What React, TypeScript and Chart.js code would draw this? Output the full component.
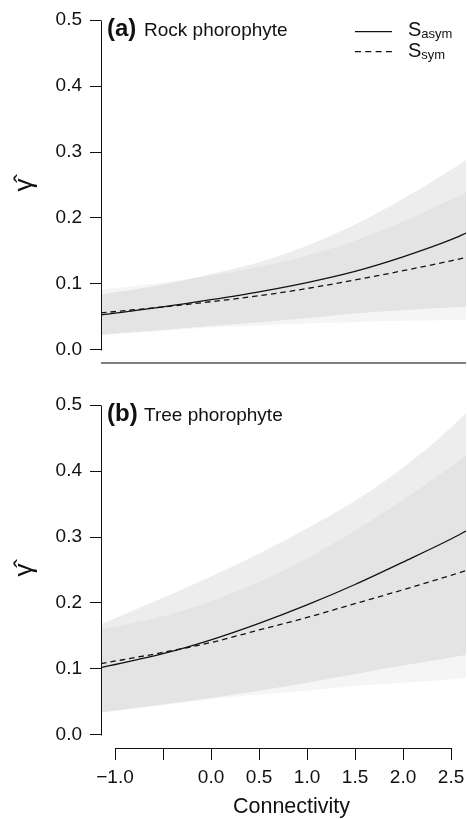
import React, { useEffect, useRef } from 'react';
import { Chart, registerables } from 'chart.js';

Chart.register(...registerables);

// ---------- data ----------
const xGrid = [-1.146, -0.5, 0.0, 0.5, 1.0, 1.5, 2.0, 2.5, 2.656];

// (a) Rock phorophyte
const rockAsym = [0.053, 0.065, 0.076, 0.088, 0.102, 0.119, 0.141, 0.167, 0.177];
const rockSym = [0.056, 0.065, 0.073, 0.082, 0.093, 0.106, 0.120, 0.135, 0.140];
const rockAsymUpper = [0.084, 0.099, 0.115, 0.133, 0.158, 0.190, 0.229, 0.273, 0.288];
const rockAsymLower = [0.023, 0.030, 0.036, 0.042, 0.048, 0.055, 0.060, 0.064, 0.065];
const rockSymUpper = [0.091, 0.102, 0.113, 0.126, 0.143, 0.166, 0.195, 0.228, 0.239];
const rockSymLower = [0.022, 0.029, 0.034, 0.037, 0.040, 0.042, 0.044, 0.045, 0.045];

// (b) Tree phorophyte
const treeAsym = [0.102, 0.123, 0.144, 0.169, 0.197, 0.228, 0.262, 0.297, 0.309];
const treeSym = [0.108, 0.125, 0.140, 0.159, 0.178, 0.199, 0.220, 0.242, 0.249];
const treeAsymUpper = [0.168, 0.208, 0.240, 0.275, 0.313, 0.355, 0.405, 0.466, 0.488];
const treeAsymLower = [0.034, 0.046, 0.056, 0.067, 0.079, 0.092, 0.105, 0.117, 0.121];
const treeSymUpper = [0.160, 0.180, 0.203, 0.232, 0.268, 0.310, 0.357, 0.407, 0.424];
const treeSymLower = [0.034, 0.045, 0.054, 0.061, 0.067, 0.074, 0.079, 0.084, 0.086];

const yTicks = [0, 0.1, 0.2, 0.3, 0.4, 0.5];
const yTickLabels = ['0.0', '0.1', '0.2', '0.3', '0.4', '0.5'];
const xTicks = [-1, -0.5, 0, 0.5, 1, 1.5, 2, 2.5];
const xTickLabels = ['\u22121.0', '', '0.0', '0.5', '1.0', '1.5', '2.0', '2.5'];

const panelLetters = ['(a)', '(b)'];
const panelNames = ['Rock phorophyte', 'Tree phorophyte'];
const legendBase = 'S';
const legendSubs = ['asym', 'sym'];
const xTitle = 'Connectivity';
const yTitle = '\u03B3\u0302';

const FONT = '"Liberation Sans", Arial, Helvetica, sans-serif';

const pts = (ys: number[]) => xGrid.map((x, i) => ({ x, y: ys[i] }));

function makeDecor(panel: number) {
  return {
    id: 'decor' + panel,
    afterDraw(chart: any) {
      const ctx = chart.ctx as CanvasRenderingContext2D;
      const ca = chart.chartArea;
      const ys = chart.scales.y;
      const xs = chart.scales.x;
      const top = ys.getPixelForValue(yTicks[yTicks.length - 1]);
      const bot = ys.getPixelForValue(yTicks[0]);
      ctx.save();
      // y axis line (R style: from first to last tick)
      ctx.strokeStyle = '#111';
      ctx.lineWidth = 1;
      const ax = Math.round(ca.left) + 0.5;
      ctx.beginPath();
      ctx.moveTo(ax, Math.round(top) + 0.5);
      ctx.lineTo(ax, Math.round(bot) + 0.5);
      ctx.stroke();
      if (panel === 0) {
        // bottom frame line of top panel
        ctx.strokeStyle = '#555';
        ctx.lineWidth = 1.5;
        ctx.beginPath();
        ctx.moveTo(ca.left, ca.bottom);
        ctx.lineTo(ca.right, ca.bottom);
        ctx.stroke();
      } else {
        ctx.strokeStyle = '#111';
        ctx.lineWidth = 1;
        const by = Math.round(ca.bottom) + 0.5;
        ctx.beginPath();
        ctx.moveTo(Math.round(xs.getPixelForValue(xTicks[0])) + 0.5, by);
        ctx.lineTo(Math.round(xs.getPixelForValue(xTicks[xTicks.length - 1])) + 0.5, by);
        ctx.stroke();
        // x title
        ctx.fillStyle = '#111';
        ctx.font = '21.5px ' + FONT;
        ctx.textAlign = 'center';
        ctx.textBaseline = 'alphabetic';
        ctx.fillText(xTitle, (ca.left + ca.right) / 2 + 8, ca.bottom + 65);
      }
      // panel label
      ctx.fillStyle = '#111';
      ctx.textAlign = 'left';
      ctx.textBaseline = 'alphabetic';
      const base = top + 15.5;
      ctx.font = 'bold 24px ' + FONT;
      ctx.fillText(panelLetters[panel], ca.left + 6, base);
      ctx.font = '19px ' + FONT;
      ctx.fillText(panelNames[panel], ca.left + 43, base);
      // legend
      if (panel === 0) {
        const lx0 = 355, lx1 = 392;
        ctx.strokeStyle = '#111';
        ctx.lineWidth = 1.2;
        ctx.beginPath();
        ctx.moveTo(lx0, top + 11.5);
        ctx.lineTo(lx1, top + 11.5);
        ctx.stroke();
        ctx.setLineDash([6, 4.3]);
        ctx.beginPath();
        ctx.moveTo(lx0, top + 31.5);
        ctx.lineTo(lx1, top + 31.5);
        ctx.stroke();
        ctx.setLineDash([]);
        const rows = [top + 15.7, top + 36.7];
        rows.forEach((b, i) => {
          ctx.font = '20px ' + FONT;
          ctx.fillText(legendBase, 408, b);
          const w = ctx.measureText(legendBase).width;
          ctx.font = '13px ' + FONT;
          ctx.fillText(legendSubs[i], 408 + w, b + 2);
        });
      }
      ctx.restore();
    },
  };
}

function buildConfig(panel: number) {
  const mean = panel === 0 ? [rockAsym, rockSym] : [treeAsym, treeSym];
  const asymBand = panel === 0 ? [rockAsymUpper, rockAsymLower] : [treeAsymUpper, treeAsymLower];
  const symBand = panel === 0 ? [rockSymUpper, rockSymLower] : [treeSymUpper, treeSymLower];
  const lineCommon = {
    pointRadius: 0,
    cubicInterpolationMode: 'monotone',
    fill: false,
  };
  const datasets: any[] = [
    { ...lineCommon, label: 'S_asym', data: pts(mean[0]), borderColor: '#111', borderWidth: 1.3 },
    { ...lineCommon, label: 'S_sym', data: pts(mean[1]), borderColor: '#111', borderWidth: 1.3, borderDash: [5.5, 4] },
    { ...lineCommon, label: 'asym upper', data: pts(asymBand[0]), borderWidth: 0, borderColor: 'rgba(0,0,0,0)', fill: '+1', backgroundColor: 'rgba(0,0,0,0.07)' },
    { ...lineCommon, label: 'asym lower', data: pts(asymBand[1]), borderWidth: 0, borderColor: 'rgba(0,0,0,0)' },
    { ...lineCommon, label: 'sym upper', data: pts(symBand[0]), borderWidth: 0, borderColor: 'rgba(0,0,0,0)', fill: '+1', backgroundColor: 'rgba(0,0,0,0.04)' },
    { ...lineCommon, label: 'sym lower', data: pts(symBand[1]), borderWidth: 0, borderColor: 'rgba(0,0,0,0)' },
  ];
  const isBottom = panel === 1;
  return {
    type: 'line',
    data: { datasets },
    plugins: [makeDecor(panel)],
    options: {
      animation: false,
      responsive: false,
      maintainAspectRatio: false,
      devicePixelRatio: 1,
      events: [],
      layout: { padding: isBottom ? { top: 12, right: 1, bottom: 0, left: 0 } : { top: 7, right: 1, bottom: 17, left: 0 } },
      plugins: { legend: { display: false }, tooltip: { enabled: false }, title: { display: false } },
      scales: {
        x: {
          type: 'linear',
          min: -1.146,
          max: 2.656,
          display: isBottom,
          afterBuildTicks: (s: any) => { s.ticks = xTicks.map((v) => ({ value: v })); },
          afterFit: (s: any) => {
            if (isBottom) { s.height = 71; } else { s.height = 0; }
            s.paddingLeft = 0; s.paddingRight = 0;
          },
          ticks: {
            autoSkip: false,
            maxRotation: 0,
            minRotation: 0,
            padding: 6,
            color: '#111',
            font: { family: FONT, size: 19 },
            callback: (_v: any, i: number) => xTickLabels[i],
          },
          grid: { drawOnChartArea: false, drawTicks: true, tickLength: 12, color: '#111', lineWidth: 1 },
          border: { display: false },
        },
        y: {
          type: 'linear',
          min: -0.02,
          max: 0.52,
          afterBuildTicks: (s: any) => { s.ticks = yTicks.map((v) => ({ value: v })); },
          afterFit: (s: any) => { s.width = 101; s.paddingTop = 0; s.paddingBottom = 0; },
          ticks: {
            padding: 8,
            color: '#111',
            font: { family: FONT, size: 19 },
            callback: (_v: any, i: number) => yTickLabels[i],
          },
          grid: { drawOnChartArea: false, drawTicks: true, tickLength: 11, color: '#111', lineWidth: 1 },
          border: { display: false },
          title: {
            display: true,
            text: yTitle,
            color: '#111',
            font: { family: FONT, size: 26 },
            padding: { top: 9, bottom: 0 },
          },
        },
      },
    },
  };
}

function Panel({ panel, top, height }: { panel: number; top: number; height: number }) {
  const ref = useRef<HTMLCanvasElement | null>(null);
  useEffect(() => {
    if (!ref.current) return;
    const chart = new Chart(ref.current, buildConfig(panel) as any);
    return () => chart.destroy();
  }, [panel]);
  return (
    <canvas
      ref={ref}
      width={467}
      height={height}
      style={{ position: 'absolute', left: 0, top, width: 467, height, display: 'block' }}
    />
  );
}

export default function App() {
  return (
    <div style={{ position: 'fixed', left: 0, top: 0, width: 467, height: 819, background: '#fff', overflow: 'hidden' }}>
      <Panel panel={0} top={0} height={380} />
      <Panel panel={1} top={380} height={439} />
    </div>
  );
}
